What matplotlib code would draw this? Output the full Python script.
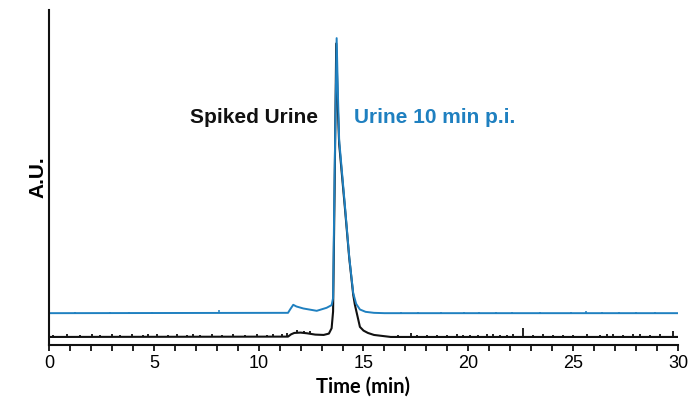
import matplotlib
matplotlib.use("Agg")
import matplotlib.pyplot as plt
from matplotlib.ticker import MultipleLocator

# Chromatogram traces (time in min, signal in arbitrary units)
black_time = [0.0, 11.40, 11.55, 11.70, 12.00, 12.30, 12.70, 13.10, 13.35, 13.48,
              13.55, 13.62, 13.70, 13.78, 13.84, 14.12, 14.32, 14.51, 14.59, 14.83,
              15.00, 15.21, 15.50, 16.30, 30.0]
black_signal = [2.4, 2.5, 3.2, 3.6, 3.7, 3.5, 3.1, 3.0, 3.4, 5.0,
                10.0, 45.0, 90.0, 70.0, 60.0, 40.5, 26.0, 15.0, 12.0, 5.4,
                4.3, 3.6, 3.0, 2.4, 2.4]

blue_time = [0.0, 11.40, 11.50, 11.65, 11.80, 12.13, 12.77, 13.24, 13.48, 13.55,
             13.62, 13.72, 13.78, 13.84, 14.12, 14.32, 14.51, 14.65, 14.83, 15.10,
             15.50, 16.00, 30.0]
blue_signal = [9.5, 9.6, 10.6, 12.0, 11.5, 10.9, 10.2, 11.1, 11.9, 14.0,
               50.0, 91.6, 75.0, 61.2, 41.2, 26.3, 15.5, 12.3, 10.6, 9.9,
               9.6, 9.5, 9.5]

# Short noise spikes riding on the baselines
black_spike_time = [0.20, 0.84, 1.48, 2.03, 2.43, 2.99, 3.39, 3.94, 4.50, 4.73,
                    5.13, 5.69, 6.09, 6.57, 6.88, 7.20, 7.76, 8.24, 8.79, 9.35,
                    9.90, 10.38, 10.70, 11.10, 11.33, 11.85, 12.15, 12.45,
                    16.66, 17.29, 17.53, 18.01, 18.49, 18.97, 19.44, 19.76, 20.08,
                    20.47, 20.87, 21.19, 21.51, 21.83, 22.14, 22.59, 23.10, 23.57,
                    24.05, 24.52, 25.00, 25.64, 26.28, 26.60, 26.91, 27.39, 27.87,
                    28.18, 28.66, 29.14, 29.77]
black_spike_low = [2.4] * 25 + [3.6, 3.6, 3.4] + [2.4] * 31
black_spike_high = [3.1, 3.2, 3.0, 3.3, 3.0, 3.2, 3.1, 3.4, 3.1, 3.3,
                    3.2, 3.0, 3.3, 3.1, 3.2, 3.1, 3.4, 3.1, 3.2, 3.0,
                    3.2, 3.1, 3.3, 3.2, 3.5, 4.4, 4.3, 4.1,
                    3.0, 3.5, 3.1, 3.0, 3.1, 3.0, 3.2, 3.0, 3.1,
                    3.1, 3.2, 3.3, 3.0, 3.1, 3.2, 5.2, 3.1, 3.2,
                    3.0, 3.1, 3.0, 3.2, 3.1, 3.3, 3.2, 3.1, 3.3,
                    3.2, 3.1, 3.3, 4.2]

blue_spike_time = [1.24, 2.90, 3.80, 4.90, 6.40, 8.10, 9.20, 10.40,
                   16.80, 17.60, 18.70, 19.80, 20.50, 21.30, 22.10, 23.40,
                   24.90, 25.60, 26.40, 27.20, 28.00, 28.90]
blue_spike_low = [9.5] * 22
blue_spike_high = [9.9, 9.8, 9.9, 9.8, 9.9, 10.4, 9.8, 9.9,
                   9.9, 9.8, 9.9, 9.8, 9.9, 9.8, 9.9, 9.8,
                   9.9, 10.0, 9.9, 9.8, 9.9, 9.8]

x_ticks = [0, 5, 10, 15, 20, 25, 30]

BLACK = "#111111"
BLUE = "#1f80c0"

fig = plt.figure(figsize=(6.95, 4.11), dpi=100)
ax = fig.add_axes([0.0705, 0.1606, 0.905, 0.8151])

ax.plot(black_time, black_signal, color=BLACK, lw=1.5, solid_joinstyle="round")
ax.vlines(black_spike_time, black_spike_low, black_spike_high, color=BLACK, lw=1.3)
ax.plot(blue_time, blue_signal, color=BLUE, lw=1.4, solid_joinstyle="round")
ax.vlines(blue_spike_time, blue_spike_low, blue_spike_high, color=BLUE, lw=1.1)

ax.set_xlim(0, 30)
ax.set_ylim(0, 100)

for side in ("top", "right"):
    ax.spines[side].set_visible(False)
for side in ("left", "bottom"):
    ax.spines[side].set_linewidth(1.5)
    ax.spines[side].set_color(BLACK)

ax.set_xticks(x_ticks)
ax.set_xticklabels([str(t) for t in x_ticks], fontfamily="Liberation Sans", fontsize=13)
ax.xaxis.set_minor_locator(MultipleLocator(1))
ax.tick_params(axis="x", which="both", direction="out", length=4.5, width=1.3,
               color=BLACK, pad=3)
ax.set_yticks([])

ax.set_xlabel("Time (min)", fontfamily="Lato", fontweight="bold", fontsize=14.5,
              labelpad=3)
ax.set_ylabel("A.U.", fontfamily="Liberation Sans", fontweight="bold", fontsize=15,
              labelpad=1)

ax.text(12.85, 68.0, "Spiked Urine", color=BLACK, fontfamily="Liberation Sans",
        fontweight="bold", fontsize=15, ha="right", va="center")
ax.text(14.55, 68.0, "Urine 10 min p.i.", color=BLUE, fontfamily="Liberation Sans",
        fontweight="bold", fontsize=15, ha="left", va="center")

fig.savefig("out.png", dpi=100)
